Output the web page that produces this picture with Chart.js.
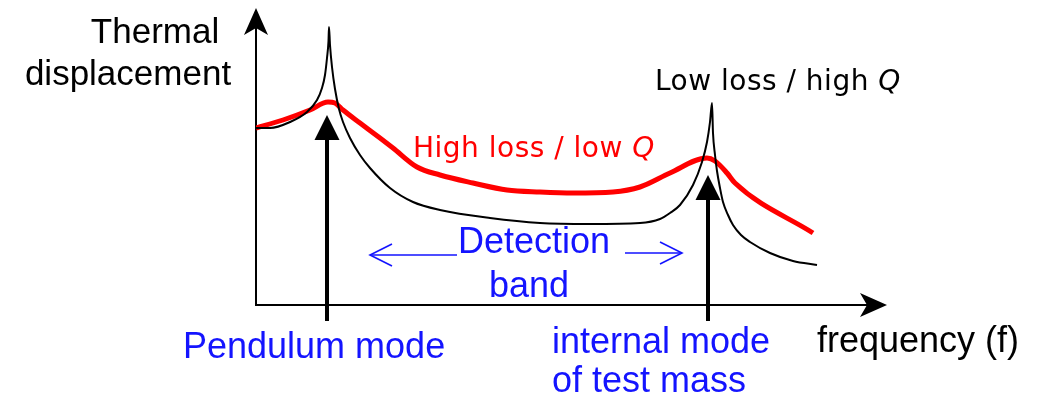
<!DOCTYPE html>
<html>
<head>
<meta charset="utf-8">
<script src="https://cdn.jsdelivr.net/npm/chart.js@4/dist/chart.umd.min.js"></script>
<style>
  html, body { margin: 0; padding: 0; background: #fff; }
  #wrap { width: 1043px; height: 402px; position: relative; }
</style>
</head>
<body>
<div id="wrap"><canvas id="c"></canvas></div>
<script>
// Curvas (frequência e deslocamento em unidades arbitrárias)
const lowLossFreq = [0, 14, 34, 51, 61, 66, 69, 71, 72.5, 73, 74, 76, 79, 83, 87, 94, 104, 114, 134, 157, 184, 234, 284, 334, 384, 404, 414, 424, 437, 446, 451, 454, 456, 457, 459, 461, 464, 467, 472, 477, 485, 494, 514, 537, 561]
const lowLossDisp = [177, 177, 183, 193, 205, 217, 230, 247, 264, 278, 260, 238, 216, 196, 183, 167, 150, 137, 117, 103, 95, 87, 82, 81, 82, 86, 92, 100, 120, 143, 163, 183, 202, 172, 150, 134, 117, 103, 90, 80, 70, 63, 52, 44, 40]

const highLossFreq = [0, 27, 54, 72, 79, 87, 104, 124, 137, 161, 184, 217, 251, 284, 317, 357, 384, 414, 451, 459, 471, 479, 557]
const highLossDisp = [177, 185, 195, 203, 202, 195, 182, 167, 157, 138, 130, 122, 115, 113, 112, 113, 118, 132, 147, 144, 132, 122, 72]

// Setas dos modos (frequência do modo e ponta da seta)
const modeFreqs = [71, 452]
const modeTips = [190, 130]

const FONT = "'Liberation Sans', Arial, sans-serif"
const BLUE = "#1414ff"

const pts = (xs, ys) => xs.map((x, i) => ({ x, y: ys[i] }))

function head(ctx, x, y, ang, len, half, notch) {
  ctx.save()
  ctx.translate(x, y)
  ctx.rotate(ang)
  ctx.beginPath()
  ctx.moveTo(0, 0)
  ctx.lineTo(-len, -half)
  ctx.lineTo(-len + notch, 0)
  ctx.lineTo(-len, half)
  ctx.closePath()
  ctx.fill()
  ctx.restore()
}

function openHead(ctx, x, y, dir, len, half) {
  ctx.beginPath()
  ctx.moveTo(x - dir * len, y - half)
  ctx.lineTo(x, y)
  ctx.lineTo(x - dir * len, y + half)
  ctx.stroke()
}

const sketch = {
  id: "sketch",
  beforeDatasetsDraw(chart) {
    const { ctx, scales: { x, y } } = chart
    const X = (v) => x.getPixelForValue(v)
    const Y = (v) => y.getPixelForValue(v)
    ctx.save()
    ctx.strokeStyle = "#000"
    ctx.fillStyle = "#000"
    ctx.lineWidth = 2
    ctx.beginPath()
    ctx.moveTo(X(0), Y(297) + 10)
    ctx.lineTo(X(0), Y(0))
    ctx.lineTo(X(631) - 10, Y(0))
    ctx.stroke()
    head(ctx, X(0), Y(297), -Math.PI / 2, 27, 12, 7)
    head(ctx, X(631), Y(0), 0, 27, 12, 7)
    ctx.restore()
  },
  afterDatasetsDraw(chart) {
    const { ctx, scales: { x, y } } = chart
    const X = (v) => x.getPixelForValue(v)
    const Y = (v) => y.getPixelForValue(v)
    ctx.save()

    // setas pretas dos modos
    ctx.fillStyle = "#000"
    ctx.strokeStyle = "#000"
    ctx.lineWidth = 4
    modeFreqs.forEach((f, i) => {
      ctx.beginPath()
      ctx.moveTo(X(f), Y(-16))
      ctx.lineTo(X(f), Y(modeTips[i]) + 22)
      ctx.stroke()
      head(ctx, X(f), Y(modeTips[i]), -Math.PI / 2, 25, 12.5, 0)
    })

    // faixa de detecção
    ctx.strokeStyle = BLUE
    ctx.lineWidth = 1.6
    ctx.beginPath()
    ctx.moveTo(X(201), Y(50)); ctx.lineTo(X(114), Y(50))
    ctx.moveTo(X(369), Y(52)); ctx.lineTo(X(426), Y(52))
    ctx.stroke()
    openHead(ctx, X(114), Y(50), -1, 22, 11)
    openHead(ctx, X(426), Y(52), 1, 22, 11)

    const text = (s, fx, fy, color, font, align) => {
      ctx.fillStyle = color
      ctx.font = font
      ctx.textAlign = align || "left"
      ctx.textBaseline = "alphabetic"
      ctx.fillText(s, X(fx), Y(fy))
    }
    const qText = (s, fx, fy, color) => {
      ctx.fillStyle = color
      ctx.textAlign = "left"
      ctx.textBaseline = "alphabetic"
      ctx.letterSpacing = "0.5px"
      ctx.font = "28px 'DejaVu Sans', sans-serif"
      ctx.fillText(s, X(fx), Y(fy))
      const w = ctx.measureText(s).width
      ctx.font = "italic 28px 'DejaVu Sans', sans-serif"
      ctx.fillText("Q", X(fx) + w, Y(fy))
      ctx.letterSpacing = "0px"
    }

    text("Thermal", -101, 262, "#000", `35px ${FONT}`, "center")
    text("displacement", -128, 220, "#000", `35px ${FONT}`, "center")
    qText("Low loss / high ", 399, 215, "#000")
    qText("High loss / low ", 157, 148, "#ff0000")
    text("Detection", 278, 52, BLUE, `36px ${FONT}`, "center")
    text("band", 273, 8, BLUE, `36px ${FONT}`, "center")
    text("Pendulum mode", -73, -53, BLUE, `36px ${FONT}`)
    text("internal mode", 296, -48, BLUE, `36px ${FONT}`)
    text("of test mass", 296, -87, BLUE, `36px ${FONT}`)
    text("frequency (f)", 561, -47, "#000", `36px ${FONT}`)
    ctx.restore()
  }
}

new Chart(document.getElementById("c"), {
  type: "line",
  data: {
    datasets: [
      {
        label: "Low loss / high Q",
        data: pts(lowLossFreq, lowLossDisp),
        borderColor: "#000",
        borderWidth: 2,
        pointRadius: 0,
        cubicInterpolationMode: "monotone",
        fill: false
      },
      {
        label: "High loss / low Q",
        data: pts(highLossFreq, highLossDisp),
        borderColor: "#ff0000",
        borderWidth: 5,
        pointRadius: 0,
        borderJoinStyle: "round",
        cubicInterpolationMode: "monotone",
        fill: false
      }
    ]
  },
  options: {
    responsive: true,
    maintainAspectRatio: false,
    animation: false,
    layout: { padding: { left: 256, right: 157, top: 8, bottom: 97 } },
    plugins: { legend: { display: false }, tooltip: { enabled: false } },
    scales: {
      x: { type: "linear", min: 0, max: 630, display: false },
      y: { type: "linear", min: 0, max: 297, display: false }
    }
  },
  plugins: [sketch]
})
</script>
</body>
</html>
